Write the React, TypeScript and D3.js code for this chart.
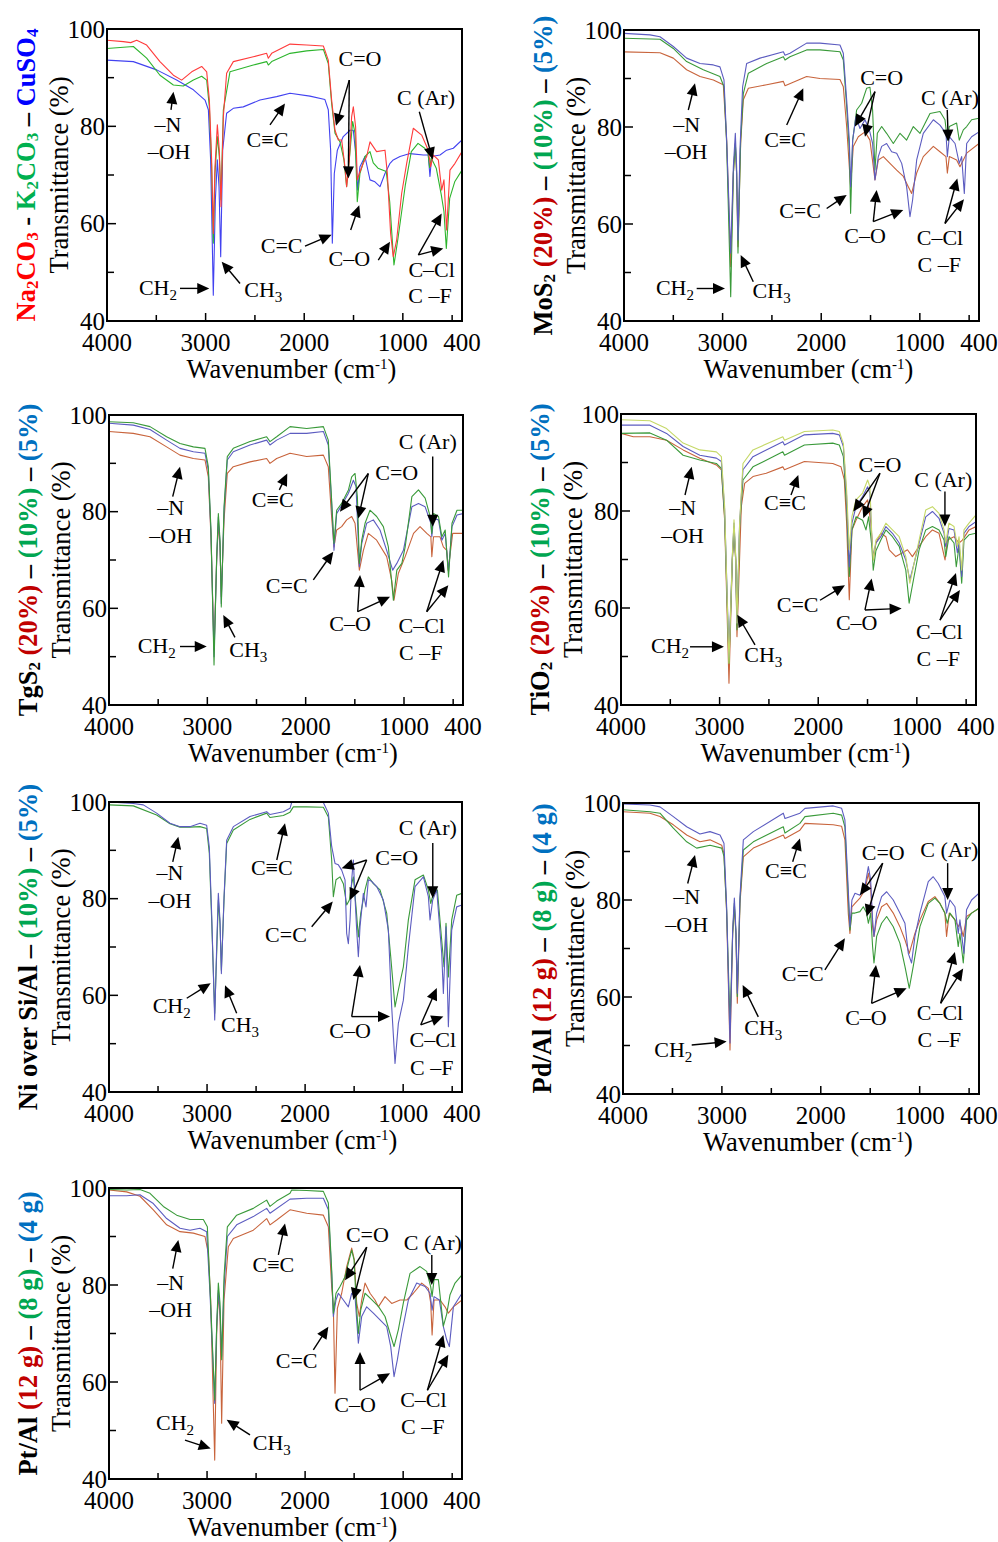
import React from "react";
import * as d3 from "d3";

type Pt = [number, number];
type TextAnn = [string, string, number, number];
type ArrowAnn = [number, number, number, number];
type LabelPart = [string, string, boolean];

const FONT = "'Liberation Serif','Times New Roman',Times,serif";

// ---------- axes ----------
const xTickValues = [4000, 3000, 2000, 1000, 400];
const xMajorTickMarks = [3000, 2000, 1000];
const xMinorTickMarks = [3500, 2500, 1500, 500];
const yTickValues = [100, 80, 60, 40];
const yMinorTickMarks = [90, 70, 50];

// ---------- Panel 1: Na2CO3 - K2CO3 - CuSO4 ----------
const p1Na2CO3: Pt[] = [[4000,97.7],[3834,97.4],[3760,97.2],[3699,97.7],[3598,96.7],[3463,93.3],[3327,90.5],[3243,89.5],[3141,91.2],[3040,92.3],[2989,91.2],[2962,85.4],[2939,73.1],[2922,58.0],[2905,71.7],[2881,80.3],[2861,75.1],[2844,63.5],[2820,82.0],[2787,90.9],[2719,93.3],[2516,94.3],[2381,95.0],[2364,94.0],[2330,95.0],[2144,96.9],[1975,96.7],[1806,96.5],[1756,93.6],[1722,85.4],[1688,79.2],[1654,77.2],[1620,77.2],[1587,71.7],[1570,67.6],[1543,73.1],[1519,82.0],[1502,84.0],[1479,79.9],[1462,69.0],[1441,70.3],[1401,72.4],[1367,73.8],[1333,76.8],[1266,74.8],[1181,75.1],[1157,70.3],[1124,58.0],[1097,53.2],[1063,56.6],[1012,66.2],[961,72.4],[894,79.6],[809,78.2],[742,75.1],[718,71.7],[691,74.1],[640,73.1],[606,66.9],[583,69.0],[556,58.7],[522,71.0],[471,72.4],[400,74.8]];
const p1K2CO3: Pt[] = [[4000,96.0],[3733,96.4],[3598,94.0],[3463,90.5],[3327,88.5],[3226,88.3],[3124,89.5],[3040,90.3],[2989,89.5],[2962,84.0],[2939,71.7],[2922,56.0],[2905,70.3],[2881,77.9],[2861,73.8],[2844,64.9],[2820,83.4],[2753,91.2],[2516,92.6],[2381,93.3],[2364,92.6],[2330,93.3],[2144,95.0],[1975,95.5],[1806,95.8],[1756,92.9],[1722,84.7],[1688,78.6],[1637,76.8],[1597,73.1],[1570,67.6],[1543,73.1],[1509,81.0],[1485,78.6],[1462,64.5],[1435,70.3],[1384,73.8],[1333,74.8],[1300,72.5],[1252,71.4],[1168,70.7],[1133,64.5],[1090,51.5],[1049,57.0],[975,67.9],[914,74.8],[846,76.5],[778,75.5],[745,74.5],[728,71.5],[712,73.5],[661,71.4],[610,65.9],[583,62.5],[559,54.9],[525,65.2],[474,68.6],[400,71.0]];
const p1CuSO4: Pt[] = [[4000,93.6],[3733,93.3],[3496,91.6],[3294,89.5],[3124,87.5],[3006,85.4],[2972,83.4],[2949,73.1],[2922,45.3],[2901,64.9],[2881,73.1],[2864,67.6],[2847,53.2],[2827,75.1],[2787,82.7],[2719,83.7],[2618,84.0],[2449,85.4],[2280,86.1],[2144,86.8],[1942,86.2],[1790,85.5],[1756,83.4],[1732,75.1],[1715,56.0],[1695,70.3],[1664,75.1],[1604,77.9],[1536,79.2],[1502,79.2],[1475,73.8],[1458,66.9],[1435,71.7],[1384,73.8],[1333,69.0],[1283,68.6],[1232,67.6],[1181,70.3],[1130,72.4],[1097,73.1],[1029,73.8],[928,74.4],[792,74.1],[742,74.1],[725,69.7],[708,73.8],[623,74.1],[556,75.1],[488,75.5],[400,77.2]];

// ---------- Panel 2: MoS2 ----------
const p2Mo20: Pt[] = [[4000,95.5],[3635,95.3],[3500,94.2],[3365,91.8],[3229,90.4],[3094,89.7],[2993,88.7],[2959,77.3],[2918,51.2],[2891,70.4],[2871,76.6],[2858,70.4],[2844,55.3],[2817,76.6],[2790,85.6],[2739,88.0],[2553,88.7],[2384,89.4],[2367,88.5],[2148,90.4],[2013,90.0],[1810,89.8],[1776,88.3],[1742,80.1],[1702,67.7],[1675,76.0],[1624,78.0],[1556,79.0],[1506,77.3],[1455,69.1],[1421,73.2],[1370,73.9],[1303,72.5],[1235,71.1],[1167,69.8],[1117,67.7],[1083,66.3],[1032,70.5],[965,73.9],[863,76.0],[796,74.9],[735,73.9],[721,70.5],[701,73.9],[627,73.2],[593,71.8],[525,74.6],[400,76.6]];
const p2Mo10: Pt[] = [[4000,98.3],[3635,98.1],[3500,96.2],[3365,93.5],[3196,91.8],[3027,90.4],[2986,88.3],[2959,76.6],[2918,45.0],[2891,70.4],[2871,76.6],[2858,70.4],[2844,54.0],[2817,77.3],[2790,86.9],[2739,91.1],[2553,93.1],[2384,94.5],[2367,93.8],[2317,94.5],[2148,95.9],[2013,95.9],[1810,95.5],[1776,93.8],[1742,84.2],[1715,75.3],[1702,62.2],[1681,77.3],[1641,83.5],[1590,84.9],[1539,88.0],[1506,88.2],[1479,83.5],[1455,71.1],[1431,78.7],[1387,80.1],[1337,78.7],[1269,76.6],[1201,78.7],[1134,77.3],[1066,80.1],[998,78.7],[897,82.8],[796,83.2],[745,81.5],[721,77.3],[701,80.1],[627,80.8],[600,77.3],[559,79.4],[525,80.1],[475,81.5],[400,81.8]];
const p2Mo5: Pt[] = [[4000,99.3],[3736,99.0],[3635,98.6],[3500,96.6],[3365,94.2],[3229,93.1],[3094,92.8],[3027,92.4],[2986,89.7],[2959,77.3],[2918,54.0],[2891,71.8],[2871,78.7],[2858,71.8],[2844,56.7],[2824,75.3],[2797,88.3],[2756,93.1],[2621,94.2],[2384,95.5],[2367,94.8],[2317,95.2],[2148,97.3],[2013,97.3],[1810,96.9],[1776,95.2],[1742,85.6],[1715,77.3],[1702,67.7],[1681,77.3],[1648,82.1],[1607,79.7],[1556,81.5],[1512,79.4],[1479,76.6],[1455,69.1],[1421,73.9],[1387,76.0],[1337,76.6],[1286,74.9],[1235,74.6],[1184,72.5],[1134,67.7],[1100,61.5],[1073,65.0],[1032,73.2],[965,78.7],[863,81.5],[796,80.4],[735,78.7],[721,73.9],[701,78.0],[643,76.6],[600,72.5],[576,73.9],[549,66.3],[525,76.6],[475,78.0],[400,79.0]];

// ---------- Panel 3: TgS2 ----------
const p3Tg20: Pt[] = [[4000,96.6],[3753,96.2],[3583,95.5],[3414,93.4],[3278,91.7],[3142,91.0],[3024,90.7],[2990,87.2],[2963,74.8],[2932,51.4],[2905,70.0],[2888,77.6],[2871,72.7],[2858,62.4],[2830,78.3],[2797,87.9],[2736,89.3],[2566,90.3],[2397,91.0],[2363,90.0],[2295,91.0],[2159,92.1],[1990,91.4],[1820,91.7],[1770,89.3],[1736,78.9],[1712,72.7],[1685,76.2],[1634,76.9],[1583,78.3],[1532,79.0],[1498,77.6],[1454,67.9],[1413,72.0],[1363,75.5],[1278,74.1],[1176,70.7],[1125,65.8],[1102,61.7],[1058,67.2],[988,70.7],[903,75.5],[837,76.9],[768,75.5],[727,74.8],[717,70.7],[700,74.8],[634,74.8],[600,72.7],[566,72.0],[551,67.9],[505,75.5],[400,75.5]];
const p3Tg10: Pt[] = [[4000,98.6],[3753,98.4],[3583,97.6],[3414,95.5],[3278,94.1],[3142,93.4],[3024,93.1],[2990,89.3],[2963,76.2],[2932,48.3],[2905,70.7],[2888,79.6],[2871,74.1],[2858,60.3],[2830,81.0],[2797,91.4],[2736,93.1],[2566,94.5],[2397,95.5],[2363,94.5],[2295,95.5],[2159,97.6],[1990,97.2],[1820,97.6],[1770,94.8],[1736,82.4],[1712,73.4],[1685,80.3],[1634,81.7],[1600,83.1],[1565,84.5],[1532,87.2],[1498,87.9],[1474,83.1],[1454,69.3],[1430,74.1],[1396,77.6],[1346,80.3],[1278,79.0],[1210,76.9],[1159,72.7],[1108,61.7],[1073,67.9],[1022,69.3],[988,72.7],[920,83.1],[853,84.5],[785,82.8],[734,79.0],[717,75.5],[700,79.6],[649,79.0],[615,74.8],[581,76.2],[547,66.5],[512,77.6],[461,80.3],[400,80.3]];
const p3Tg5: Pt[] = [[4000,98.3],[3753,97.9],[3583,97.0],[3414,94.8],[3278,93.1],[3142,92.4],[3024,92.1],[2990,88.6],[2963,75.5],[2932,50.0],[2905,70.0],[2888,78.9],[2871,73.4],[2858,61.0],[2830,80.3],[2797,90.7],[2736,92.4],[2566,93.8],[2397,94.8],[2363,93.8],[2295,94.8],[2159,96.2],[1990,96.2],[1820,96.6],[1770,93.8],[1736,81.7],[1712,72.0],[1685,79.6],[1634,81.3],[1565,83.8],[1515,86.5],[1488,85.2],[1454,68.6],[1430,73.4],[1380,77.6],[1312,78.3],[1244,76.2],[1176,72.0],[1115,67.9],[1073,69.3],[1006,72.0],[920,81.0],[853,81.7],[785,81.0],[727,77.6],[717,74.8],[700,78.6],[649,78.3],[615,74.1],[581,75.5],[547,67.6],[512,76.9],[461,79.3],[400,79.6]];

// ---------- Panel 4: TiO2 ----------
const p4Ti20: Pt[] = [[4000,96.0],[3875,95.3],[3707,95.3],[3538,94.6],[3370,92.6],[3201,90.9],[3033,89.5],[2982,88.5],[2949,78.1],[2905,44.5],[2871,69.9],[2854,75.4],[2837,69.9],[2824,54.1],[2780,80.9],[2746,85.7],[2662,87.1],[2527,87.8],[2359,89.1],[2342,88.5],[2140,90.2],[1853,89.8],[1769,89.1],[1735,86.4],[1712,77.5],[1685,61.7],[1658,76.1],[1617,78.1],[1550,80.9],[1499,82.3],[1466,77.5],[1442,69.9],[1415,73.4],[1365,75.4],[1314,74.7],[1280,72.0],[1213,70.6],[1146,71.4],[1095,72.0],[1045,70.6],[977,72.7],[910,74.7],[842,76.1],[775,75.4],[714,69.9],[690,74.0],[623,74.7],[572,73.4],[538,74.0],[471,76.1],[400,76.8]];
const p4Ti10: Pt[] = [[4000,96.0],[3707,96.1],[3538,94.6],[3370,91.5],[3201,90.5],[3033,89.8],[2982,88.8],[2949,78.8],[2905,48.6],[2871,69.9],[2854,76.8],[2837,69.9],[2824,55.5],[2797,76.8],[2763,86.4],[2662,89.1],[2359,92.2],[2342,91.5],[2140,93.6],[1853,94.0],[1786,93.6],[1745,91.2],[1712,80.9],[1685,66.5],[1658,76.1],[1617,78.8],[1550,78.1],[1516,76.1],[1489,78.8],[1456,72.7],[1442,67.8],[1415,71.8],[1365,74.0],[1314,76.1],[1247,74.7],[1179,72.7],[1112,67.8],[1078,61.0],[1028,66.5],[977,72.0],[910,76.1],[842,76.8],[775,76.1],[724,74.0],[707,70.6],[674,74.7],[623,73.4],[600,68.5],[572,72.7],[545,65.1],[522,74.0],[471,75.1],[400,75.4]];
const p4Ti5: Pt[] = [[4000,97.7],[3707,97.7],[3538,96.0],[3370,93.3],[3201,91.5],[3033,90.9],[2982,90.2],[2949,80.2],[2905,49.9],[2871,70.6],[2854,77.5],[2837,70.6],[2824,56.9],[2797,77.5],[2763,88.5],[2662,91.2],[2359,94.3],[2342,93.6],[2140,95.7],[1853,96.0],[1786,95.7],[1745,93.3],[1712,83.0],[1685,68.5],[1658,77.5],[1617,80.9],[1550,83.0],[1499,85.0],[1476,83.7],[1456,74.0],[1442,70.6],[1415,73.4],[1365,74.7],[1314,76.8],[1247,75.4],[1179,73.4],[1112,69.9],[1071,65.8],[1028,69.2],[977,73.4],[910,78.8],[842,79.9],[775,78.5],[724,75.4],[707,72.7],[674,76.4],[623,76.1],[589,71.4],[572,73.4],[545,66.5],[522,75.4],[471,76.8],[400,77.8]];
const p4Base: Pt[] = [[4000,98.8],[3707,98.6],[3538,97.0],[3370,94.0],[3201,92.6],[3033,92.2],[2982,91.2],[2949,80.9],[2905,48.6],[2871,70.6],[2854,78.2],[2837,70.6],[2824,56.9],[2797,77.5],[2763,89.8],[2662,92.6],[2359,95.3],[2342,94.6],[2140,96.4],[1853,96.7],[1786,96.4],[1745,93.9],[1712,84.3],[1685,72.0],[1658,78.9],[1617,82.3],[1550,83.7],[1499,86.4],[1476,85.0],[1456,74.7],[1442,69.9],[1415,74.0],[1365,75.4],[1314,77.5],[1247,76.1],[1179,74.7],[1112,70.6],[1071,65.1],[1028,69.2],[977,74.0],[910,80.2],[842,80.9],[775,79.5],[724,76.1],[707,73.4],[674,77.5],[623,76.8],[589,72.7],[572,74.7],[545,67.8],[522,76.1],[471,77.5],[400,79.2]];

// ---------- Panel 5: Ni over Si/Al ----------
const p5Ni10: Pt[] = [[4000,99.4],[3752,99.2],[3514,97.3],[3378,95.5],[3276,94.8],[3174,94.8],[3072,94.9],[3004,94.5],[2977,89.4],[2953,75.6],[2922,56.3],[2902,68.6],[2885,79.7],[2868,74.8],[2854,65.2],[2827,79.7],[2800,91.4],[2732,94.2],[2562,96.4],[2392,97.7],[2358,96.8],[2222,97.2],[2154,97.9],[2120,99.0],[1984,99.0],[1814,98.9],[1763,96.9],[1729,88.0],[1712,80.4],[1685,83.9],[1644,84.5],[1610,83.1],[1576,78.7],[1549,79.7],[1525,83.1],[1508,84.5],[1481,78.3],[1457,72.1],[1433,76.9],[1389,81.8],[1355,84.5],[1304,83.1],[1236,81.8],[1168,77.0],[1127,68.0],[1083,57.6],[1049,61.1],[998,65.9],[947,75.6],[879,83.9],[794,84.9],[743,81.8],[719,79.0],[692,81.1],[651,81.8],[607,71.4],[583,65.9],[563,74.9],[539,63.8],[505,75.6],[454,80.7],[400,81.1]];
const p5Ni5: Pt[] = [[4000,100.0],[3752,99.7],[3650,99.4],[3514,97.7],[3378,95.6],[3276,94.9],[3174,94.9],[3072,95.6],[3004,95.2],[2977,90.7],[2953,76.9],[2922,54.9],[2902,70.0],[2885,81.1],[2868,75.6],[2854,64.5],[2827,80.3],[2800,92.1],[2732,94.9],[2562,97.0],[2392,98.0],[2358,97.4],[2222,98.0],[2154,98.7],[2137,99.9],[1984,99.9],[1814,99.9],[1763,97.7],[1729,90.8],[1695,87.3],[1661,87.0],[1627,85.9],[1593,83.9],[1576,72.8],[1559,70.7],[1542,75.5],[1525,83.9],[1508,88.0],[1491,80.3],[1474,73.5],[1457,68.0],[1440,74.2],[1406,81.1],[1379,78.3],[1355,83.9],[1321,83.6],[1270,82.5],[1202,79.7],[1151,73.5],[1117,57.6],[1083,45.9],[1049,54.2],[998,59.0],[947,70.0],[879,82.5],[794,84.5],[743,80.4],[726,75.6],[699,79.7],[658,81.8],[607,68.7],[590,60.4],[563,74.2],[539,53.5],[505,73.5],[454,78.3],[400,78.7]];

// ---------- Panel 6: Pd/Al ----------
const p6Pd12: Pt[] = [[4000,98.2],[3727,97.9],[3626,97.2],[3491,95.5],[3356,93.4],[3222,92.0],[3120,92.4],[3002,91.3],[2979,89.6],[2952,77.3],[2918,49.1],[2891,73.1],[2874,78.6],[2858,73.1],[2844,58.7],[2817,79.3],[2783,88.9],[2682,90.7],[2379,93.4],[2362,92.7],[2211,94.4],[2160,95.8],[1874,95.5],[1789,95.2],[1756,92.4],[1722,77.3],[1705,73.1],[1685,78.6],[1654,79.3],[1604,80.4],[1553,82.1],[1519,85.5],[1496,82.8],[1476,74.5],[1462,72.5],[1435,75.9],[1385,78.6],[1334,79.3],[1267,77.3],[1200,74.5],[1149,71.8],[1105,69.0],[1048,73.1],[997,75.9],[913,79.7],[846,80.7],[795,79.3],[745,77.3],[728,72.5],[701,77.3],[643,75.9],[610,74.5],[593,75.2],[559,72.5],[526,76.6],[475,77.3],[400,78.3]];
const p6Pd8: Pt[] = [[4000,98.6],[3727,98.2],[3626,97.9],[3491,94.8],[3356,92.0],[3255,90.7],[3120,91.3],[3002,90.7],[2979,89.0],[2952,77.9],[2918,54.6],[2891,73.1],[2874,79.3],[2858,73.1],[2844,60.1],[2817,80.0],[2783,90.3],[2682,92.0],[2379,95.1],[2362,93.8],[2211,95.8],[2160,97.2],[1874,97.9],[1789,97.5],[1756,95.1],[1722,80.7],[1705,73.8],[1685,77.3],[1654,77.3],[1604,77.6],[1570,78.6],[1536,77.3],[1519,75.2],[1496,77.3],[1476,70.4],[1462,67.0],[1435,72.5],[1385,75.2],[1334,76.6],[1267,74.5],[1200,71.1],[1149,66.3],[1105,61.8],[1065,66.3],[997,74.5],[913,79.3],[846,80.4],[795,79.3],[745,77.3],[721,75.2],[694,77.3],[643,75.9],[610,70.4],[593,73.1],[559,67.0],[526,75.9],[475,77.3],[400,78.3]];
const p6Pd4: Pt[] = [[4000,99.8],[3727,99.6],[3626,99.2],[3491,97.2],[3356,95.1],[3222,93.6],[3120,94.1],[3019,93.4],[2979,91.7],[2952,78.6],[2918,50.5],[2891,73.8],[2874,80.4],[2858,73.8],[2844,60.8],[2817,80.7],[2783,92.4],[2682,94.1],[2379,97.9],[2362,96.8],[2211,97.9],[2160,98.9],[1874,99.4],[1789,98.9],[1756,96.5],[1722,82.1],[1705,74.5],[1685,80.0],[1654,81.4],[1604,81.0],[1553,82.8],[1519,86.9],[1496,84.2],[1476,75.9],[1462,72.5],[1435,77.3],[1385,80.7],[1334,81.7],[1267,80.0],[1200,77.3],[1149,75.2],[1115,69.0],[1082,67.0],[1048,72.5],[997,77.3],[913,83.8],[863,84.8],[812,83.4],[745,80.7],[728,77.3],[694,80.0],[643,78.6],[610,73.1],[593,75.9],[553,69.0],[526,78.0],[475,80.0],[400,81.4]];

// ---------- Panel 7: Pt/Al ----------
const p7Pt12: Pt[] = [[4000,99.6],[3820,99.2],[3684,98.3],[3548,95.5],[3412,92.4],[3276,91.0],[3140,90.7],[3021,90.0],[2987,86.5],[2963,76.9],[2922,43.9],[2902,70.0],[2885,78.3],[2868,73.5],[2851,51.5],[2827,76.9],[2783,87.9],[2732,89.6],[2528,91.3],[2392,93.7],[2358,92.4],[2290,93.4],[2154,95.5],[1984,94.8],[1814,94.4],[1763,92.0],[1729,79.6],[1712,75.5],[1695,57.7],[1671,75.2],[1627,78.3],[1576,83.8],[1525,87.6],[1498,85.2],[1474,76.3],[1447,73.5],[1423,76.9],[1389,80.4],[1338,78.3],[1287,76.9],[1253,75.5],[1185,77.6],[1117,76.2],[1032,76.9],[964,76.9],[896,78.3],[811,80.4],[743,79.3],[719,76.3],[705,69.7],[685,76.9],[624,76.9],[573,75.5],[539,74.2],[488,75.5],[400,76.9]];
const p7Pt8: Pt[] = [[4000,99.7],[3820,99.6],[3684,99.7],[3582,98.9],[3446,96.2],[3310,94.4],[3174,93.5],[3038,93.5],[2997,92.0],[2970,79.6],[2922,56.3],[2902,71.4],[2885,80.4],[2868,76.3],[2851,64.6],[2827,81.7],[2793,92.0],[2698,94.4],[2528,95.8],[2392,97.5],[2358,96.2],[2290,97.3],[2154,98.9],[2137,99.6],[1984,99.5],[1814,99.3],[1763,96.9],[1729,83.1],[1712,74.2],[1685,78.3],[1644,79.7],[1593,81.7],[1559,84.5],[1525,87.2],[1501,85.2],[1481,77.1],[1457,70.0],[1433,74.8],[1389,78.3],[1321,77.0],[1253,75.6],[1185,73.5],[1134,70.0],[1093,67.3],[1049,70.8],[998,76.3],[930,82.4],[828,83.8],[760,82.8],[719,79.6],[705,77.6],[685,81.1],[641,81.1],[590,71.5],[556,74.0],[522,78.0],[471,80.4],[400,82.1]];
const p7Pt4: Pt[] = [[4000,98.4],[3820,98.4],[3684,98.6],[3548,96.8],[3412,93.7],[3276,91.7],[3174,91.3],[3072,91.7],[3004,91.0],[2970,78.3],[2922,55.6],[2902,71.4],[2885,78.9],[2868,74.8],[2851,65.3],[2827,79.7],[2793,90.0],[2698,92.4],[2528,94.1],[2392,95.8],[2358,94.8],[2154,97.7],[1984,97.9],[1814,97.9],[1763,95.5],[1729,82.4],[1712,73.5],[1685,76.9],[1661,78.3],[1610,76.9],[1559,75.5],[1525,78.3],[1491,77.6],[1457,68.0],[1423,73.5],[1372,75.5],[1304,74.2],[1236,72.8],[1168,71.4],[1127,67.3],[1093,61.1],[1059,64.6],[1015,70.0],[947,76.9],[862,80.4],[777,79.7],[726,78.3],[705,74.8],[685,77.6],[631,76.9],[590,71.4],[556,68.7],[529,67.3],[488,75.5],[400,78.3]];

// ---------- band annotations (wavenumber, T) ----------
const p1Texts: TextAnn[] = [["–N","",3381,78.9],["–OH","",3371,73.2],["C≡C","",2373,75.8],["C=O","",1435,92.3],["C (Ar)","",765,84.4],["C=C","",2229,53.9],["C–O","",1543,51.2],["C–Cl","",708,49.1],["C –F","",725,43.6],["CH","2",3483,45.3],["CH","3",2415,45.0]];
const p1Arrows: ArrowAnn[] = [[3351,83.4,3326,87.1],[2347,80.3,2195,84.7],[1543,89.5,1678,80.1],[1543,89.5,1553,69.3],[833,83,697,73.2],[1992,55.4,1722,57.7],[1529,58.7,1442,63.8],[1249,52.5,1130,56.3],[843,53.6,606,62.1],[843,53.6,590,54.9],[3260,46.7,2963,46.7],[2651,47.7,2837,52.2]];
const p2Texts: TextAnn[] = [["–N","",3364,79.0],["–OH","",3371,73.3],["C≡C","",2367,75.9],["C=O","",1387,88.7],["C (Ar)","",694,84.5],["C=C","",2215,61.2],["C–O","",1556,56.0],["C–Cl","",796,55.7],["C –F","",803,50.2],["CH","2",3483,45.4],["CH","3",2503,44.7]];
const p2Arrows: ArrowAnn[] = [[3348,83.5,3280,89.0],[2350,80.4,2182,88.0],[1455,87.3,1658,80.1],[1455,87.3,1556,78.0],[722,83.5,712,77.0],[1945,63.2,1742,66.0],[1472,60.5,1438,67.0],[1472,60.5,1168,62.9],[745,60.1,620,69.4],[745,60.1,552,65.1],[3263,46.7,2976,46.7],[2689,48.1,2817,53.6]];
const p3Texts: TextAnn[] = [["–N","",3373,79.3],["–OH","",3373,73.6],["C≡C","",2335,80.9],["C=O","",1074,86.6],["C (Ar)","",759,92.9],["C=C","",2193,63.1],["C–O","",1549,55.4],["C–Cl","",820,55.0],["C –F","",830,49.3],["CH","2",3515,50.7],["CH","3",2583,50.0]];
const p3Arrows: ArrowAnn[] = [[3352,83.1,3278,89.3],[2268,84.5,2187,87.9],[1363,87.9,1651,80.0],[1363,87.9,1465,78.6],[708,91.4,708,76.9],[1922,65.9,1719,71.7],[1471,59.3,1447,66.9],[1471,59.3,1142,62.4],[769,59.3,600,70.0],[769,59.3,549,64.8],[3278,52.1,3006,52.1],[2719,54.0,2838,58.6]];
const p4Texts: TextAnn[] = [["–N","",3375,79.2],["–OH","",3375,73.5],["C≡C","",2337,80.2],["C=O","",1374,88.1],["C (Ar)","",732,85.0],["C=C","",2209,59.2],["C–O","",1610,55.5],["C–Cl","",772,53.7],["C –F","",782,48.0],["CH","2",3503,50.7],["CH","3",2557,48.9]];
const p4Arrows: ArrowAnn[] = [[3351,83.3,3283,89.1],[2276,83.3,2202,87.4],[1374,87.8,1644,79.9],[1374,87.8,1543,78.5],[715,84.0,715,76.8],[1982,61.6,1729,64.7],[1526,59.6,1458,66.1],[1526,59.6,1154,59.9],[765,57.5,603,67.2],[765,57.5,563,63.7],[3300,52.0,2956,52.0],[2641,52.4,2821,58.6]];
const p5Texts: TextAnn[] = [["–N","",3378,83.9],["–OH","",3378,78.0],["C≡C","",2340,84.9],["C=O","",1066,87.0],["C (Ar)","",749,93.2],["C=C","",2195,71.1],["C–O","",1542,51.1],["C–Cl","",698,49.4],["C –F","",708,43.5],["CH","2",3361,56.3],["CH","3",2664,52.5]];
const p5Arrows: ArrowAnn[] = [[3350,87.6,3293,92.8],[2289,88.0,2205,95.6],[1372,88.0,1627,86.3],[1372,88.0,1542,79.7],[698,91.5,698,80.1],[1933,74.2,1718,79.4],[1525,55.6,1440,66.3],[1525,55.6,1134,55.6],[821,53.9,657,61.5],[821,53.9,590,55.6],[3207,59.4,2963,62.5],[2698,56.3,2817,62.1]];
const p6Texts: TextAnn[] = [["–N","",3356,79.2],["–OH","",3356,73.5],["C≡C","",2352,84.5],["C=O","",1368,88.2],["C (Ar)","",701,88.8],["C=C","",2183,63.2],["C–O","",1543,54.2],["C–Cl","",795,55.3],["C –F","",802,49.7],["CH","2",3491,47.6],["CH","3",2582,52.2]];
const p6Arrows: ArrowAnn[] = [[3346,83.4,3272,89.3],[2284,87.9,2211,92.7],[1374,87.6,1604,81.0],[1374,87.6,1536,76.6],[717,87.6,717,80.0],[1958,65.6,1756,72.1],[1486,58.7,1442,66.6],[1486,58.7,1132,61.8],[788,58.7,644,69.3],[788,58.7,560,65.9],[3305,50.1,2952,50.8],[2632,55.9,2790,62.5]];
const p7Texts: TextAnn[] = [["–N","",3371,79.0],["–OH","",3371,73.3],["C≡C","",2324,82.7],["C=O","",1365,88.9],["C (Ar)","",698,87.2],["C=C","",2086,62.8],["C–O","",1491,53.9],["C–Cl","",794,54.9],["C –F","",800,49.3],["CH","2",3327,50.2],["CH","3",2340,46.0]];
const p7Arrows: ArrowAnn[] = [[3350,83.4,3293,89.3],[2273,86.2,2205,92.7],[1372,87.8,1593,81.0],[1372,87.8,1508,76.9],[708,86.2,708,80.0],[1916,66.6,1763,71.4],[1440,58.3,1440,66.2],[1440,58.3,1134,61.8],[753,58.3,590,69.7],[753,58.3,539,65.6],[3225,48.0,2963,46.3],[2562,49.1,2800,52.2]];

// ---------- colours ----------
const C1R = "#ff3b3b", C1G = "#2db52d", C1B = "#4242f0";
const CR = "#c8643c", CG = "#3a9a3a", CB = "#5c5cc0", CY = "#c5d867";
const LR = "#c00000", LG = "#00a651", LB = "#0070c0", K = "#000";

const pctLabel = (head: LabelPart[], a: string, b: string, c: string): LabelPart[] => [
  ...head, [" ", K, false], [a, LR, false], [" – ", K, false], [b, LG, false], [" – ", K, false], [c, LB, false],
];

const panels = [
  { x0: 107, y0: 29, w: 355, h: 292,
    series: [{ d: p1CuSO4, c: C1B }, { d: p1K2CO3, c: C1G }, { d: p1Na2CO3, c: C1R }],
    texts: p1Texts, arrows: p1Arrows,
    label: [["Na","#ff0000",false],["2","#ff0000",true],["CO","#ff0000",false],["3","#ff0000",true],[" - ",K,false],["K","#00b050",false],["2","#00b050",true],["CO","#00b050",false],["3","#00b050",true],[" – ",K,false],["CuSO","#0000ff",false],["4","#0000ff",true]] as LabelPart[] },
  { x0: 624, y0: 30, w: 355, h: 291,
    series: [{ d: p2Mo20, c: CR }, { d: p2Mo10, c: CG }, { d: p2Mo5, c: CB }],
    texts: p2Texts, arrows: p2Arrows,
    label: pctLabel([["MoS",K,false],["2",K,true]], "(20%)", "(10%)", "(5%)") },
  { x0: 109, y0: 415, w: 354, h: 290,
    series: [{ d: p3Tg20, c: CR }, { d: p3Tg5, c: CB }, { d: p3Tg10, c: CG }],
    texts: p3Texts, arrows: p3Arrows,
    label: pctLabel([["TgS",K,false],["2",K,true]], "(20%)", "(10%)", "(5%)") },
  { x0: 621, y0: 414, w: 355, h: 291,
    series: [{ d: p4Ti20, c: CR }, { d: p4Ti10, c: CG }, { d: p4Ti5, c: CB }, { d: p4Base, c: CY }],
    texts: p4Texts, arrows: p4Arrows,
    label: pctLabel([["TiO",K,false],["2",K,true]], "(20%)", "(10%)", "(5%)") },
  { x0: 109, y0: 802, w: 353, h: 290,
    series: [{ d: p5Ni10, c: CG }, { d: p5Ni5, c: CB }],
    texts: p5Texts, arrows: p5Arrows,
    label: [["Ni over Si/Al – ",K,false],["(10%)",LG,false],[" – ",K,false],["(5%)",LB,false]] as LabelPart[] },
  { x0: 623, y0: 803, w: 356, h: 291,
    series: [{ d: p6Pd12, c: CR }, { d: p6Pd8, c: CG }, { d: p6Pd4, c: CB }],
    texts: p6Texts, arrows: p6Arrows,
    label: pctLabel([["Pd/Al",K,false]], "(12 g)", "(8 g)", "(4 g)") },
  { x0: 109, y0: 1188, w: 353, h: 291,
    series: [{ d: p7Pt12, c: CR }, { d: p7Pt4, c: CB }, { d: p7Pt8, c: CG }],
    texts: p7Texts, arrows: p7Arrows,
    label: pctLabel([["Pt/Al",K,false]], "(12 g)", "(8 g)", "(4 g)") },
];

function Arrow({ x1, y1, x2, y2 }: { x1: number; y1: number; x2: number; y2: number }) {
  const dx = x2 - x1, dy = y2 - y1;
  const len = Math.sqrt(dx * dx + dy * dy) || 1;
  const ux = dx / len, uy = dy / len;
  const L = 12, W = 5.5;
  const bx = x2 - ux * L, by = y2 - uy * L;
  const pts = `${x2},${y2} ${bx - uy * W},${by + ux * W} ${bx + uy * W},${by - ux * W}`;
  return (
    <g>
      <line x1={x1} y1={y1} x2={bx + ux * 1} y2={by + uy * 1} stroke="#000" strokeWidth={1.4} />
      <polygon points={pts} fill="#000" />
    </g>
  );
}

function Panel({ p, idx }: { p: any; idx: number }) {
  const { x0, y0, w, h } = p;
  const x = d3.scaleLinear().domain([4000, 400]).range([x0, x0 + w]);
  const y = d3.scaleLinear().domain([40, 100]).range([y0 + h, y0]);
  const line = d3.line<Pt>().x((d) => x(d[0])).y((d) => y(d[1]));
  const clipId = `plotclip${idx}`;
  const cy = y0 + h / 2;
  return (
    <g>
      <defs>
        <clipPath id={clipId}><rect x={x0} y={y0} width={w} height={h} /></clipPath>
      </defs>
      <g clipPath={`url(#${clipId})`}>
        {p.series.map((s: any, i: number) => (
          <path key={i} d={line(s.d) || ""} fill="none" stroke={s.c} strokeWidth={1.1} strokeLinejoin="round" />
        ))}
      </g>
      {xMajorTickMarks.map((v) => (
        <line key={"xM" + v} x1={x(v)} x2={x(v)} y1={y0 + h} y2={y0 + h - 8} stroke="#000" strokeWidth={1.5} />
      ))}
      {xMinorTickMarks.map((v) => (
        <line key={"xm" + v} x1={x(v)} x2={x(v)} y1={y0 + h} y2={y0 + h - 6} stroke="#000" strokeWidth={1.5} />
      ))}
      {yTickValues.map((v) => (
        <line key={"yM" + v} x1={x0} x2={x0 + 9} y1={y(v)} y2={y(v)} stroke="#000" strokeWidth={1.5} />
      ))}
      {yMinorTickMarks.map((v) => (
        <line key={"ym" + v} x1={x0} x2={x0 + 7} y1={y(v)} y2={y(v)} stroke="#000" strokeWidth={1.5} />
      ))}
      <rect x={x0} y={y0} width={w} height={h} fill="none" stroke="#000" strokeWidth={2} />
      {xTickValues.map((v) => (
        <text key={"xt" + v} x={x(v)} y={y0 + h + 30} textAnchor="middle" fontSize={25} fontFamily={FONT}>{v}</text>
      ))}
      {yTickValues.map((v) => (
        <text key={"yt" + v} x={x0 - 2} y={y(v)} textAnchor="end" dominantBaseline="central" fontSize={25} fontFamily={FONT}>{v}</text>
      ))}
      <text x={x0 + w / 2 + 7} y={y0 + h + 57} textAnchor="middle" fontSize={26.5} fontFamily={FONT}>
        Wavenumber (cm<tspan fontSize={15} dy={-9}>-1</tspan><tspan dy={9}>)</tspan>
      </text>
      <text transform={`translate(${x0 - 48},${cy}) rotate(-90)`} textAnchor="middle" dominantBaseline="central" fontSize={26.5} fontFamily={FONT}>
        Transmittance (%)
      </text>
      <text transform={`translate(${x0 - 81},${cy}) rotate(-90)`} textAnchor="middle" dominantBaseline="central" fontSize={26.5} fontWeight="bold" fontFamily={FONT}>
        {p.label.map((lp: LabelPart, i: number) => {
          const prevSub = i > 0 && p.label[i - 1][2];
          const dy = lp[2] ? 6 : prevSub ? -6 : 0;
          return (
            <tspan key={i} fill={lp[1]} fontSize={lp[2] ? 17 : 26.5} dy={dy} style={{ whiteSpace: "pre" }}>{lp[0]}</tspan>
          );
        })}
      </text>
      {p.arrows.map((a: ArrowAnn, i: number) => (
        <Arrow key={"a" + i} x1={x(a[0])} y1={y(a[1])} x2={x(a[2])} y2={y(a[3])} />
      ))}
      {p.texts.map((t: TextAnn, i: number) => (
        <text key={"t" + i} x={x(t[2])} y={y(t[3])} textAnchor="middle" fontSize={22} fontFamily={FONT} style={{ whiteSpace: "pre" }}>
          {t[0]}
          {t[1] ? <tspan fontSize={15} dy={5}>{t[1]}</tspan> : null}
        </text>
      ))}
    </g>
  );
}

export default function App() {
  return (
    <svg width={998} height={1542} viewBox="0 0 998 1542" style={{ position: "absolute", left: 0, top: 0, background: "#fff" }}>
      <rect x={0} y={0} width={998} height={1542} fill="#fff" />
      {panels.map((p, i) => (
        <Panel key={i} p={p} idx={i} />
      ))}
    </svg>
  );
}
